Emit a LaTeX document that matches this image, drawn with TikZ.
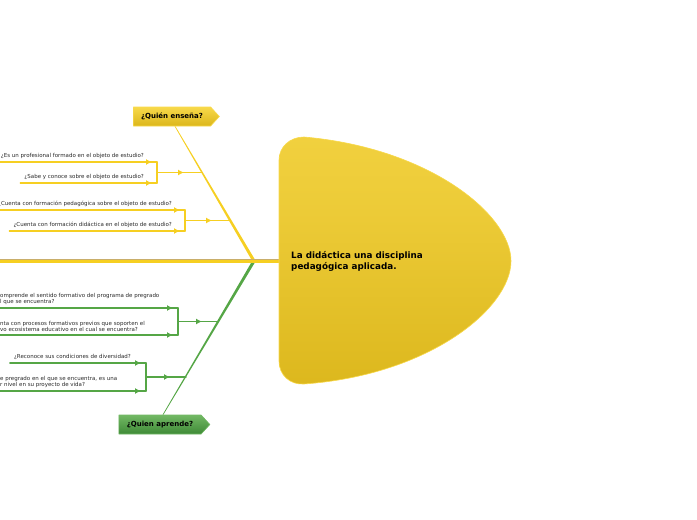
\documentclass[tikz,border=0pt]{standalone}
\usepackage{fontspec}
\setmainfont{DejaVu Sans}
\usetikzlibrary{arrows.meta,positioning,calc,shapes.symbols,decorations.markings}
\definecolor{yfish}{HTML}{F6CF22}
\definecolor{ydark}{HTML}{DBB61B}
\definecolor{ylight}{HTML}{F8D94A}
\definecolor{gfish}{HTML}{55A646}
\definecolor{gdark}{HTML}{3F8A37}
\definecolor{glight}{HTML}{72B864}
\definecolor{spineedge}{HTML}{C9AE6A}
\definecolor{qtxt}{HTML}{2A2A2A}
\pgfdeclareverticalshading{headshade}{100bp}{color(0bp)=(ylight);color(22bp)=(ydark);color(60bp)=(ylight!60!ydark);color(100bp)=(ylight)}
\tikzset{
  every picture/.style={line join=round, line cap=round, >=Latex},
  qtext/.style={font=\fontsize{5.5}{6.5}\selectfont, text=qtxt, inner sep=0pt},
  qtwo/.style={qtext, align=left},
  ywire/.style={draw=yfish, line width=1.4pt},
  gwire/.style={draw=gfish, line width=1.4pt},
  tipat/.style={postaction={decorate,decoration={markings,mark=at position #1 with {\arrow{Latex[length=6pt,width=6pt]}}}}},
  bonebox/.style={signal, signal to=east, signal pointer angle=95, minimum height=19pt,
    font=\bfseries\fontsize{7}{8}\selectfont, inner sep=0pt, line width=0.6pt},
  headtext/.style={font=\bfseries\fontsize{8.8}{11}\selectfont, align=left, inner sep=0pt},
}
\begin{document}
\begin{tikzpicture}[x=1pt,y=-1pt]
\useasboundingbox (0,0) rectangle (697,520);
\coordinate (tail) at (-2,261);
\coordinate (hub) at (254,261);
\coordinate (neck) at (284,261);
% labels of the two bones
\node[bonebox, minimum width=86pt, top color=ylight, bottom color=ydark, draw=ylight] (who) at (172,116.5) {¿Quién enseña?};
\node[bonebox, minimum width=91pt, top color=glight, bottom color=gdark, draw=glight] (learner) at (160,424.5) {¿Quien aprende?};
% bones
\fill[yfish] ($(hub)+(-1.8,0)$) -- ($(hub)+(1.8,0)$) -- ($(who.south)+(3.4,0)$) -- ($(who.south)+(2.6,0)$) -- cycle;
\fill[gfish] ($(hub)+(-1.8,0)$) -- ($(hub)+(1.8,0)$) -- ($(learner.north)+(3.4,0)$) -- ($(learner.north)+(2.6,0)$) -- cycle;
% spine
\draw[spineedge, line width=4.4pt, line cap=butt] (tail) -- (neck);
\draw[yfish, line width=3pt, line cap=butt] (tail) -- (neck);
% head
\shadedraw[shading=headshade, draw=ylight, line width=0.6pt] (304,137) .. controls (430,148) and (511,215) .. (511,261)
  .. controls (511,308) and (430,375) .. (304,384) .. controls (290,385) and (279,375) .. (279,361)
  -- (279,160) .. controls (279,147) and (290,137) .. (304,137) -- cycle;
\node[headtext, anchor=west] (head) at (291,261.5) {La didáctica una disciplina\\pedagógica aplicada.};

% who teaches
\coordinate (ye1) at (157,162);
\coordinate (ye2) at (157,183);
\coordinate (yk1) at (157,172.5);
\coordinate (yb1) at (202,172.5);
\node[qtext, anchor=south east] (ya1) at ([shift={(-13,-3)}]ye1) {¿Es un profesional formado en el objeto de estudio?};
\node[qtext, anchor=south east] (ya2) at ([shift={(-13,-3)}]ye2) {¿Sabe y conoce sobre el objeto de estudio?};
\draw[ywire, tipat=-5pt] ([xshift=-4pt]ya1.west |- ye1) -- (ye1);
\draw[ywire, tipat=-5pt] ([xshift=-4pt]ya2.west |- ye2) -- (ye2);
\draw[ywire] (ye1) -- (ye2);
\draw[ywire, tipat=0.6] (yk1) -- (yb1);

\coordinate (ye3) at (185,210);
\coordinate (ye4) at (185,231);
\coordinate (yk2) at (185,220.5);
\coordinate (yb2) at (230,220.5);
\node[qtext, anchor=south east] (ya3) at ([shift={(-13,-3)}]ye3) {¿Cuenta con formación pedagógica sobre el objeto de estudio?};
\node[qtext, anchor=south east] (ya4) at ([shift={(-13,-3)}]ye4) {¿Cuenta con formación didáctica en el objeto de estudio?};
\draw[ywire, tipat=-5pt] ([xshift=-4pt]ya3.west |- ye3) -- (ye3);
\draw[ywire, tipat=-5pt] ([xshift=-4pt]ya4.west |- ye4) -- (ye4);
\draw[ywire] (ye3) -- (ye4);
\draw[ywire, tipat=0.6] (yk2) -- (yb2);

% who learns
\coordinate (gr1) at (178,308);
\coordinate (gr2) at (178,335);
\coordinate (gk1) at (178,321.5);
\coordinate (gb1) at (218,321.5);
\node[qtwo, anchor=south west] (ga1) at (0,305) {omprende el sentido formativo del programa de pregrado\\l que se encuentra?};
\node[qtwo, anchor=south west] (ga2) at (0,332) {nta con procesos formativos previos que soporten el\\vo ecosistema educativo en el cual se encuentra?};
\draw[gwire, tipat=-5pt] ([xshift=-4pt]ga1.west |- gr1) -- (gr1);
\draw[gwire, tipat=-5pt] ([xshift=-4pt]ga2.west |- gr2) -- (gr2);
\draw[gwire] (gr1) -- (gr2);
\draw[gwire, tipat=0.6] (gk1) -- (gb1);

\coordinate (gr3) at (146,363);
\coordinate (gr4) at (146,391);
\coordinate (gk2) at (146,377);
\coordinate (gb2) at (186,377);
\node[qtext, anchor=south east] (ga3) at ([shift={(-15,-3)}]gr3) {¿Reconoce sus condiciones de diversidad?};
\node[qtwo, anchor=south west] (ga4) at (0,388) {e pregrado en el que se encuentra, es una\\r nivel en su proyecto de vida?};
\draw[gwire, tipat=-5pt] ([xshift=-4pt]ga3.west |- gr3) -- (gr3);
\draw[gwire, tipat=-5pt] ([xshift=-4pt]ga4.west |- gr4) -- (gr4);
\draw[gwire] (gr3) -- (gr4);
\draw[gwire, tipat=0.6] (gk2) -- (gb2);
\end{tikzpicture}
\end{document}
